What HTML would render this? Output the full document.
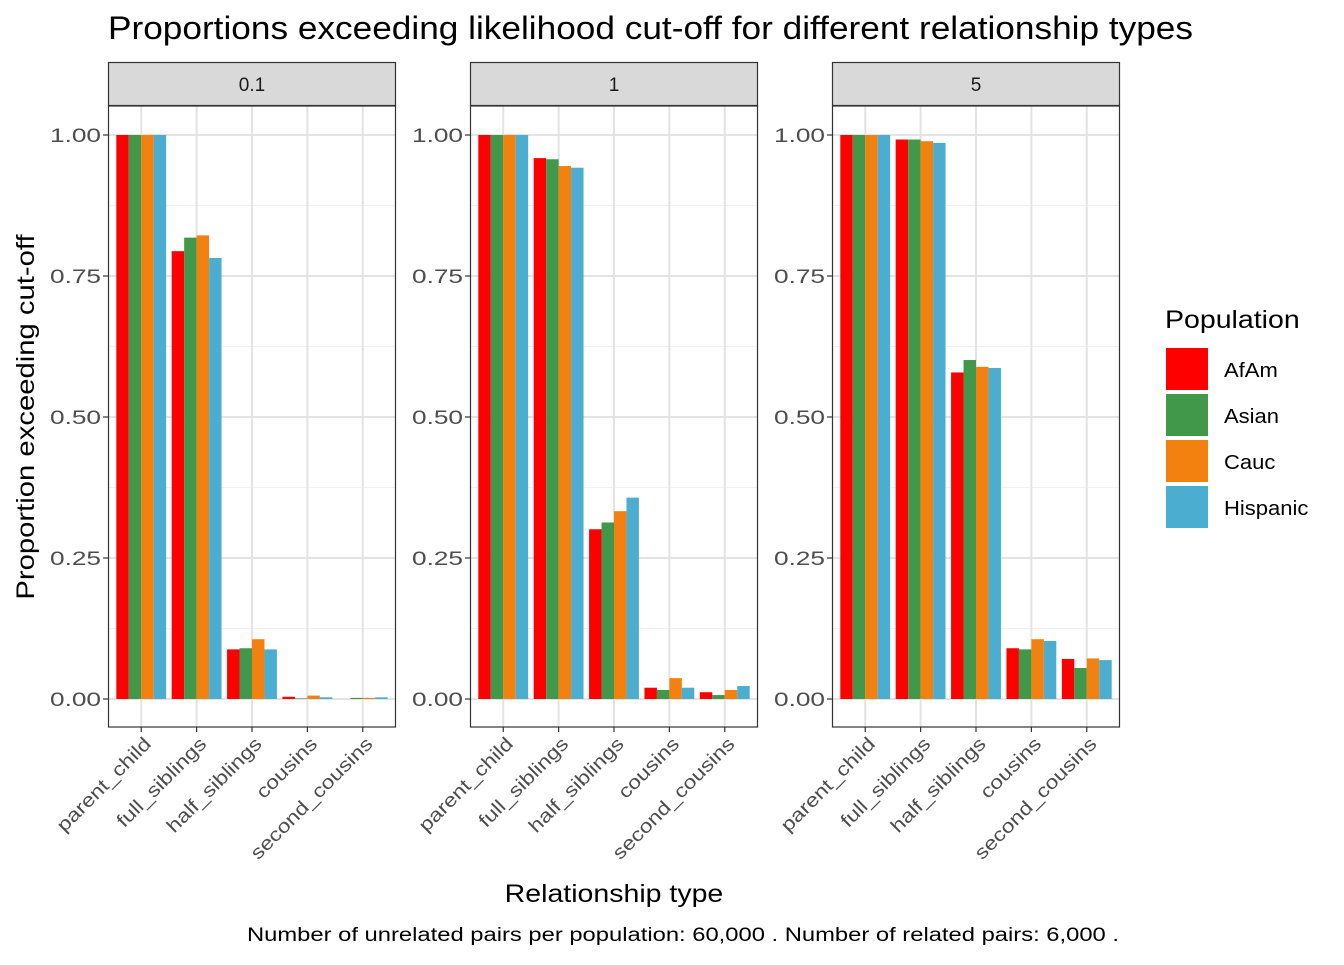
<!DOCTYPE html>
<html><head><meta charset="utf-8"><style>
body{margin:0;background:#fff;}
svg text{font-family:"Liberation Sans",Arial,sans-serif;}
</style></head><body>
<svg id="c" width="1344" height="960" xmlns="http://www.w3.org/2000/svg"></svg>
<script>
const panels=["0.1","1","5"];
const categories=["parent_child","full_siblings","half_siblings","cousins","second_cousins"];
const series=["AfAm","Asian","Cauc","Hispanic"];
const colors=["#FF0000","#41984B","#F2810F","#4BAED0"];
const valsP1=[[1,0.794,0.088,0.004,0],[1,0.818,0.090,0.001,0.002],[1,0.822,0.106,0.006,0.002],[1,0.782,0.088,0.003,0.003]];
const valsP2=[[1,0.959,0.301,0.020,0.012],[1,0.957,0.313,0.016,0.007],[1,0.945,0.333,0.037,0.016],[1,0.942,0.357,0.020,0.023]];
const valsP3=[[1,0.992,0.579,0.090,0.071],[1,0.992,0.601,0.088,0.055],[1,0.989,0.589,0.106,0.072],[1,0.986,0.587,0.103,0.069]];
const allVals=[valsP1,valsP2,valsP3];
const yTicks=[0,0.25,0.5,0.75,1];
const yLabels=["0.00","0.25","0.50","0.75","1.00"];

const svg=document.getElementById('c');
const NS="http://www.w3.org/2000/svg";
const widen=[];
function mk(t,a,p){const e=document.createElementNS(NS,t);for(const k in a)e.setAttribute(k,a[k]);(p||svg).appendChild(e);return e;}
const panelX=[108,470,832], PW=288, PT=106, PB=727;
function yScale(v){return 699-v*564;}
function xScale(px,i){return px+(i+1-0.4)*(PW/5.2);}

let t=mk('text',{x:108,y:39,'font-size':32,fill:'#000',textLength:1085,lengthAdjust:'spacingAndGlyphs'});
t.textContent="Proportions exceeding likelihood cut-off for different relationship types";


panels.forEach((p,pi)=>{
  const px=panelX[pi];
  const g=mk('g',{});
  
  
  mk('rect',{x:px,y:PT,width:PW,height:PB-PT,fill:'#fff'},g);
  for(let k=0;k<4;k++){const v=0.125+k*0.25;mk('line',{x1:px,x2:px+PW,y1:yScale(v),y2:yScale(v),stroke:'#F0F0F0','stroke-width':1},g);}
  yTicks.forEach(v=>mk('line',{x1:px,x2:px+PW,y1:yScale(v),y2:yScale(v),stroke:'#E3E3E3','stroke-width':2},g));
  categories.forEach((c,i)=>mk('line',{x1:xScale(px,i),x2:xScale(px,i),y1:PT,y2:PB,stroke:'#E3E3E3','stroke-width':2},g));
  const bw=PW/5.2*0.225;
  categories.forEach((c,i)=>{
    series.forEach((s,si)=>{
      const v=allVals[pi][si][i];
      const x=xScale(px,i)-2*bw+si*bw;
      const r=mk('rect',{x:x,y:yScale(v),width:bw,height:Math.max(0,yScale(0)-yScale(v)),fill:colors[si]},g);
      
      
    });
  });
  mk('rect',{x:px+0.5,y:PT,width:PW-1,height:PB-PT,fill:'none',stroke:'#333','stroke-width':1.2},g);
  const st=mk('rect',{x:px+0.5,y:62.5,width:PW-1,height:43,fill:'#D9D9D9',stroke:'#333','stroke-width':1.2},g);
  
  const stt=mk('text',{x:px+PW/2,y:91,'font-size':19,'text-anchor':'middle',fill:'#1A1A1A'},g);
  stt.textContent=p;
  yTicks.forEach((v,k)=>{
    mk('line',{x1:px-5,x2:px,y1:yScale(v),y2:yScale(v),stroke:'#333','stroke-width':1.2},g);
    const lt=mk('text',{x:px-7,y:yScale(v)+7,'font-size':19,'text-anchor':'end',fill:'#4D4D4D'},g);
    lt.textContent=yLabels[k];widen.push([lt,1.38]);
  });
  categories.forEach((c,i)=>{
    const x=xScale(px,i);
    mk('line',{x1:x,x2:x,y1:PB,y2:PB+5,stroke:'#333','stroke-width':1.2},g);
    const lt=mk('text',{x:x+11,y:PB+18,'font-size':19,'text-anchor':'end',fill:'#4D4D4D',transform:`rotate(-45 ${x+11} ${PB+18})`},g);
    lt.textContent=c;widen.push([lt,1.2]);
  });
});
t=mk('text',{x:614,y:902,'font-size':25,'text-anchor':'middle',fill:'#000'});
t.textContent="Relationship type";widen.push([t,1.14]);
t=mk('text',{x:0,y:0,'font-size':25,'text-anchor':'middle',fill:'#000',transform:'translate(34 417) rotate(-90)'});
t.textContent="Proportion exceeding cut-off";widen.push([t,1.17]);
t=mk('text',{x:247,y:941,'font-size':19,fill:'#000',textLength:872,lengthAdjust:'spacingAndGlyphs'});
t.setAttribute('xml:space','preserve');
t.textContent="Number of unrelated pairs per population:  60,000 . Number of related pairs:  6,000 .";

const lg=mk('g',{});

t=mk('text',{x:1165,y:328,'font-size':25,fill:'#000'},lg);t.textContent="Population";widen.push([t,1.14]);
series.forEach((s,si)=>{
  const y=348+si*46;
  const r=mk('rect',{x:1166,y:y,width:42,height:42,fill:colors[si]},lg);
  
  const tt=mk('text',{x:1224,y:y+29,'font-size':20,fill:'#000'},lg);tt.textContent=s;widen.push([tt,1.1]);
});
widen.forEach(([e,f])=>{const L=e.getComputedTextLength();e.setAttribute('textLength',(L*f).toFixed(1));e.setAttribute('lengthAdjust','spacingAndGlyphs');});
</script>
</body></html>
